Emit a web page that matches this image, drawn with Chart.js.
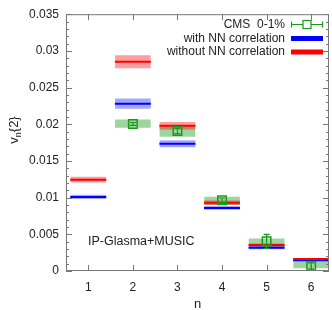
<!DOCTYPE html>
<html>
<head>
<meta charset="utf-8">
<script src="https://cdn.jsdelivr.net/npm/chart.js@4/dist/chart.umd.min.js"></script>
<style>
  html, body { margin: 0; padding: 0; background: #fff; }
  #wrap { width: 332px; height: 310px; }
</style>
</head>
<body>
<div id="wrap"><canvas id="c" width="332" height="310"></canvas></div>
<script>
// harmonic order
const nVals = [1, 2, 3, 4, 5, 6];
const yTicks = [0, 0.005, 0.01, 0.015, 0.02, 0.025, 0.03, 0.035];

// IP-Glasma+MUSIC, with NN correlation (blue)
const withNN = [0.0101, 0.0228, 0.01735, 0.0086, 0.00318, 0.00145];
const withNNErr = [0.0003, 0.0007, 0.00048, 0.00025, 0.0002, 0.0001];
// without NN correlation (red)
const withoutNN = [0.01245, 0.02852, 0.0198, 0.0093, 0.00355, 0.00162];
const withoutNNErr = [0.0004, 0.0009, 0.0005, 0.0003, 0.0002, 0.0001];

// CMS 0-1%
const cmsN = [2, 3, 4, 5, 6];
const cms = [0.02004, 0.01908, 0.00965, 0.00404, 0.0007];
const cmsStat = [0.0002, 0.00035, 0.0003, 0.00095, 0.0004];
const cmsSysLo = [0.01951, 0.01829, 0.00899, 0.00312, 0.00039];
const cmsSysHi = [0.02066, 0.01987, 0.01013, 0.00443, 0.00136];

const RED = '#ff0000', BLUE = '#0000ff', GREEN = '#1a9a1a';
const FONT = '"Liberation Sans", Arial, sans-serif';
const TXT = '#222';

Chart.defaults.font.family = FONT;
Chart.defaults.font.size = 12;
Chart.defaults.color = TXT;

function band(vals, errs) {
  return nVals.map((x, i) => ({ x: x, y: [vals[i] - errs[i], vals[i] + errs[i]] }));
}
function pts(xs, vals) {
  return xs.map((x, i) => ({ x: x, y: vals[i] }));
}

const bandOpts = { grouped: false, categoryPercentage: 0.8, barPercentage: 1, borderWidth: 0 };
const lineOpts = { type: 'line', showLine: false, pointStyle: 'line', pointRadius: 18, pointHoverRadius: 18, pointBorderWidth: 2 };

// gnuplot style frame, ticks, errorbars, legend and labels
const decor = {
  id: 'decor',
  afterDraw(chart) {
    const ctx = chart.ctx, a = chart.chartArea;
    const xs = chart.scales.x, ys = chart.scales.y;
    ctx.save();
    ctx.strokeStyle = '#777';
    ctx.lineWidth = 1;
    ctx.strokeRect(a.left + 0.5, a.top + 0.5, a.right - a.left - 1, a.bottom - a.top - 1);
    ctx.beginPath();
    nVals.forEach(v => {
      const px = Math.round(xs.getPixelForValue(v)) + 0.5;
      ctx.moveTo(px, a.bottom); ctx.lineTo(px, a.bottom - 6);
      ctx.moveTo(px, a.top); ctx.lineTo(px, a.top + 6);
    });
    for (let k = 0; k <= 35; k++) {
      const py = Math.round(ys.getPixelForValue(k * 0.001)) + 0.5;
      const len = k % 5 === 0 ? 6 : 3;
      ctx.moveTo(a.left, py); ctx.lineTo(a.left + len, py);
      ctx.moveTo(a.right, py); ctx.lineTo(a.right - len, py);
    }
    ctx.stroke();

    // CMS statistical errorbars
    ctx.strokeStyle = GREEN;
    ctx.lineWidth = 1.2;
    ctx.beginPath();
    cmsN.forEach((x, i) => {
      const px = xs.getPixelForValue(x);
      const y1 = ys.getPixelForValue(cms[i] - cmsStat[i]);
      const y2 = ys.getPixelForValue(cms[i] + cmsStat[i]);
      ctx.moveTo(px, y1); ctx.lineTo(px, y2);
      ctx.moveTo(px - 3, y1); ctx.lineTo(px + 3, y1);
      ctx.moveTo(px - 3, y2); ctx.lineTo(px + 3, y2);
    });
    ctx.stroke();

    // legend
    ctx.font = '12px ' + FONT;
    ctx.fillStyle = TXT;
    ctx.textAlign = 'right';
    ctx.textBaseline = 'middle';
    const tx = 285, sx1 = 291, sx2 = 323;
    ctx.fillText('CMS  0-1%', tx, 24.5);
    ctx.fillText('with NN correlation', tx, 38.5);
    ctx.fillText('without NN correlation', tx, 52);
    ctx.strokeStyle = GREEN;
    ctx.beginPath();
    ctx.moveTo(sx1, 24.5); ctx.lineTo(sx2, 24.5);
    ctx.moveTo(sx1 + 0.5, 21.5); ctx.lineTo(sx1 + 0.5, 27.5);
    ctx.moveTo(sx2 - 0.5, 21.5); ctx.lineTo(sx2 - 0.5, 27.5);
    ctx.stroke();
    ctx.fillStyle = '#fff';
    ctx.fillRect(303, 20.5, 8, 8);
    ctx.strokeRect(303, 20.5, 8, 8);
    ctx.fillStyle = BLUE;
    ctx.fillRect(sx1, 36, sx2 - sx1, 5);
    ctx.fillStyle = RED;
    ctx.fillRect(sx1, 49.5, sx2 - sx1, 5);

    // model label
    ctx.fillStyle = TXT;
    ctx.textAlign = 'left';
    ctx.font = '12.5px ' + FONT;
    ctx.fillText('IP-Glasma+MUSIC', 88, 242);

    // axis titles
    ctx.font = '13px ' + FONT;
    ctx.textAlign = 'center';
    ctx.fillText('n', (a.left + a.right) / 2, 304);
    ctx.translate(14, 130);
    ctx.rotate(-Math.PI / 2);
    ctx.textAlign = 'left';
    ctx.textBaseline = 'alphabetic';
    const w1 = ctx.measureText('v').width;
    ctx.font = '9px ' + FONT;
    const w2 = ctx.measureText('n').width;
    ctx.font = '13px ' + FONT;
    const w3 = ctx.measureText('{2}').width;
    let x0 = -(w1 + w2 + w3) / 2;
    ctx.fillText('v', x0, 4);
    ctx.font = '9px ' + FONT;
    ctx.fillText('n', x0 + w1, 7);
    ctx.font = '13px ' + FONT;
    ctx.fillText('{2}', x0 + w1 + w2, 4);
    ctx.restore();
  }
};

new Chart(document.getElementById('c'), {
  type: 'bar',
  data: {
    datasets: [
      Object.assign({ label: 'CMS sys', data: cmsN.map((x, i) => ({ x: x, y: [cmsSysLo[i], cmsSysHi[i]] })),
        backgroundColor: 'rgba(40,160,40,0.45)', order: 6 }, bandOpts),
      Object.assign({ label: 'with band', data: band(withNN, withNNErr),
        backgroundColor: 'rgba(0,0,255,0.35)', order: 5 }, bandOpts),
      Object.assign({ label: 'without band', data: band(withoutNN, withoutNNErr),
        backgroundColor: 'rgba(255,0,0,0.38)', order: 4 }, bandOpts),
      Object.assign({ label: 'with NN correlation', data: pts(nVals, withNN),
        borderColor: BLUE, pointBorderColor: BLUE, order: 3 }, lineOpts),
      Object.assign({ label: 'without NN correlation', data: pts(nVals, withoutNN),
        borderColor: RED, pointBorderColor: RED, order: 2 }, lineOpts),
      { type: 'line', label: 'CMS  0-1%', data: pts(cmsN, cms), showLine: false,
        pointStyle: 'rect', pointRadius: 6, pointHoverRadius: 6, pointBorderWidth: 1.5,
        pointBorderColor: GREEN, pointBackgroundColor: 'rgba(0,0,0,0)', borderColor: GREEN, order: 1 }
    ]
  },
  options: {
    responsive: false,
    animation: false,
    events: [],
    layout: { autoPadding: false, padding: { left: 0, right: 3, top: 5, bottom: 0 } },
    plugins: { legend: { display: false }, tooltip: { enabled: false } },
    scales: {
      x: {
        type: 'linear', min: 0.5, max: 6.4, offset: false,
        grid: { display: false, drawTicks: false },
        border: { display: false },
        afterBuildTicks: s => { s.ticks = nVals.map(v => ({ value: v })); },
        afterFit: s => { s.height = 39; },
        ticks: { padding: 9, maxRotation: 0, callback: v => String(v) }
      },
      y: {
        min: 0, max: 0.035,
        grid: { display: false, drawTicks: false },
        border: { display: false },
        afterBuildTicks: s => { s.ticks = yTicks.map(v => ({ value: v })); },
        afterFit: s => { s.width = 66; },
        ticks: { padding: 7, callback: v => String(Number(v.toFixed(3))) }
      }
    }
  },
  plugins: [decor]
});
</script>
</body>
</html>
